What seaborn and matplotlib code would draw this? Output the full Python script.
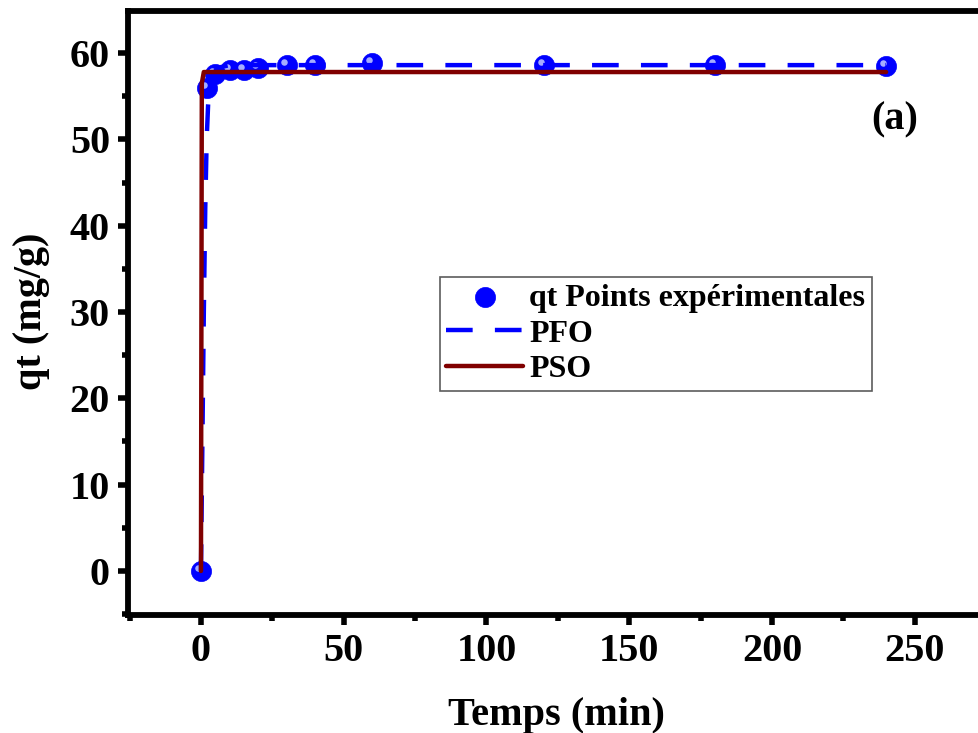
import numpy as np
import pandas as pd
import matplotlib
matplotlib.use("Agg")
import matplotlib.pyplot as plt
import matplotlib.transforms as mtransforms
import seaborn as sns
from matplotlib.ticker import MultipleLocator

# ---- data ----
t_exp = [0, 2, 5, 10, 15, 20, 30, 40, 60, 120, 180, 240]
q_exp = [0, 56.0, 57.6, 58.0, 58.0, 58.3, 58.6, 58.6, 58.8, 58.6, 58.6, 58.5]

t_pfo = [0, 1, 1.5, 2, 2.5, 3, 4, 6, 10, 240]
q_pfo = [0, 30.0, 42.0, 50.0, 54.0, 56.0, 57.5, 58.3, 58.6, 58.6]

t_pso = [0, 0.3, 1, 240]
q_pso = [0, 56.5, 57.8, 57.8]

x_ticks = [0, 50, 100, 150, 200, 250]
y_ticks = [0, 10, 20, 30, 40, 50, 60]

sns.set_theme(style="white")
plt.rcParams["font.family"] = ["Liberation Serif", "DejaVu Serif"]
plt.rcParams["font.weight"] = "bold"
plt.rcParams["text.color"] = "black"
plt.rcParams["axes.labelcolor"] = "black"
plt.rcParams["xtick.color"] = "black"
plt.rcParams["ytick.color"] = "black"

fig = plt.figure(figsize=(9.79, 7.33), dpi=100)
ax = fig.add_axes([128 / 979, 1 - 615 / 733, 872 / 979, 604 / 733])

df_exp = pd.DataFrame({"t": t_exp, "q": q_exp})
df_pfo = pd.DataFrame({"t": t_pfo, "q": q_pfo})
df_pso = pd.DataFrame({"t": t_pso, "q": q_pso})

sns.scatterplot(data=df_exp, x="t", y="q", ax=ax, color="#0000FF", s=210,
                edgecolor="#0000FF", linewidth=0.5, zorder=3,
                label="qt Points expérimentales")
# glossy highlight on markers (small light spot, up-left)
hl = mtransforms.offset_copy(ax.transData, fig=fig, x=-3, y=3, units="dots")
ax.scatter(df_exp["t"], df_exp["q"], s=22, color="#B8C0FF", alpha=0.9,
           zorder=3.5, linewidths=0, transform=hl)
sns.lineplot(data=df_pfo, x="t", y="q", ax=ax, color="#0000FF", lw=3.2,
             label="PFO", zorder=4, sort=False)
sns.lineplot(data=df_pso, x="t", y="q", ax=ax, color="#800000", lw=3.2,
             label="PSO", zorder=5, sort=False)
ax.lines[0].set_dashes([6, 5])

ax.set_xlim(-25.56, 279.9)
ax.set_ylim(-5.1, 64.87)
ax.set_xticks(x_ticks)
ax.set_yticks(y_ticks)
ax.xaxis.set_minor_locator(MultipleLocator(25))
ax.yaxis.set_minor_locator(MultipleLocator(5))
ax.tick_params(axis="both", which="major", direction="out", length=7, width=4,
               labelsize=29, bottom=True, left=True, pad=6, color="black",
               labelcolor="black")
ax.tick_params(axis="both", which="minor", direction="out", length=4, width=4,
               bottom=True, left=True, color="black")
for lab in ax.get_xticklabels() + ax.get_yticklabels():
    lab.set_fontweight("bold")
for s in ax.spines.values():
    s.set_linewidth(4.2)
    s.set_color("black")
    s.set_capstyle("projecting")
ax.spines["right"].set_visible(False)

ax.set_xlabel("Temps (min)", fontsize=29, fontweight="bold")
ax.set_ylabel("qt (mg/g)", fontsize=29, fontweight="bold")
ax.xaxis.set_label_coords((556 - 128) / 872, (615 - 697) / 604)
ax.yaxis.set_label_coords((50 - 128) / 872, (615 - 311) / 604)

ax.text(243, 52.2, "(a)", fontsize=29, fontweight="bold", ha="center", va="center")

leg = ax.legend(loc="upper left", bbox_to_anchor=((440 - 128) / 872, (615 - 277) / 604),
                frameon=True, fancybox=False, prop={"weight": "bold", "size": 23},
                handlelength=2.4, handletextpad=0.2, borderpad=0.2, labelspacing=0.2,
                borderaxespad=0, markerscale=1.0)
leg.get_frame().set_edgecolor("#333333")
leg.get_frame().set_linewidth(1.2)
for t in leg.get_texts():
    t.set_color("black")

fig.savefig("out.png", dpi=100)
